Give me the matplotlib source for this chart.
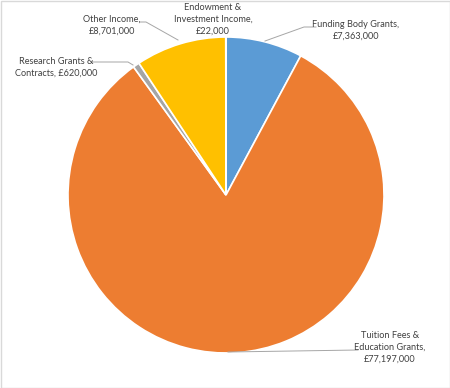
import matplotlib
matplotlib.use("Agg")
import matplotlib.pyplot as plt
from matplotlib.patches import Rectangle

# data (clockwise from 12 o'clock, Excel order)
labels = ["Funding Body Grants", "Tuition Fees & Education Grants",
          "Research Grants & Contracts", "Other Income",
          "Endowment & Investment Income"]
values = [7363000, 77197000, 620000, 8701000, 22000]
colors = ["#5B9BD5", "#ED7D31", "#A5A5A5", "#FFC000", "#4472C4"]

label_text = ["Funding Body Grants,\n£7,363,000",
              "Tuition Fees &\nEducation Grants,\n£77,197,000",
              "Research Grants &\nContracts, £620,000",
              "Other Income,\n£8,701,000",
              "Endowment &\nInvestment Income,\n£22,000"]

W, H = 450, 388
fig = plt.figure(figsize=(W / 100, H / 100), dpi=100)
ax = fig.add_axes([0, 0, 1, 1])


def Y(y):  # pixel row -> data y
    return H - y


cx, cy, r = 226, 195, 158
ax.pie(values, colors=colors, startangle=90, counterclock=False,
       center=(cx, Y(cy)), radius=r, frame=True,
       wedgeprops=dict(edgecolor="white", linewidth=1.2))
ax.set_xlim(0, W); ax.set_ylim(0, H); ax.axis("off")

FS = 6.6
TC = "#404040"
LC = "#A6A6A6"
# label positions (pixel coords) and leader lines
pos = [(356, 30), (390, 347), (56, 67), (112, 25), (213, 19)]
leaders = [[(316, 27), (304, 27), (265, 41)],
           [(358, 350), (228, 352)],
           [(92, 62), (128, 62), (133, 65)],
           [(140, 22), (146, 22), (178, 40)],
           None]
for (x, y), t, ln in zip(pos, label_text, leaders):
    ax.text(x, Y(y), t, ha="center", va="center", fontsize=FS, color=TC,
            family=["Lato", "DejaVu Sans"], linespacing=1.4)
    if ln:
        ax.plot([p[0] for p in ln], [Y(p[1]) for p in ln], color=LC, lw=0.7)

ax.add_patch(Rectangle((0.5, 0.5), W - 1, H - 1, fill=False, ec="#D9D9D9", lw=1))
fig.savefig("out.png", dpi=100)
